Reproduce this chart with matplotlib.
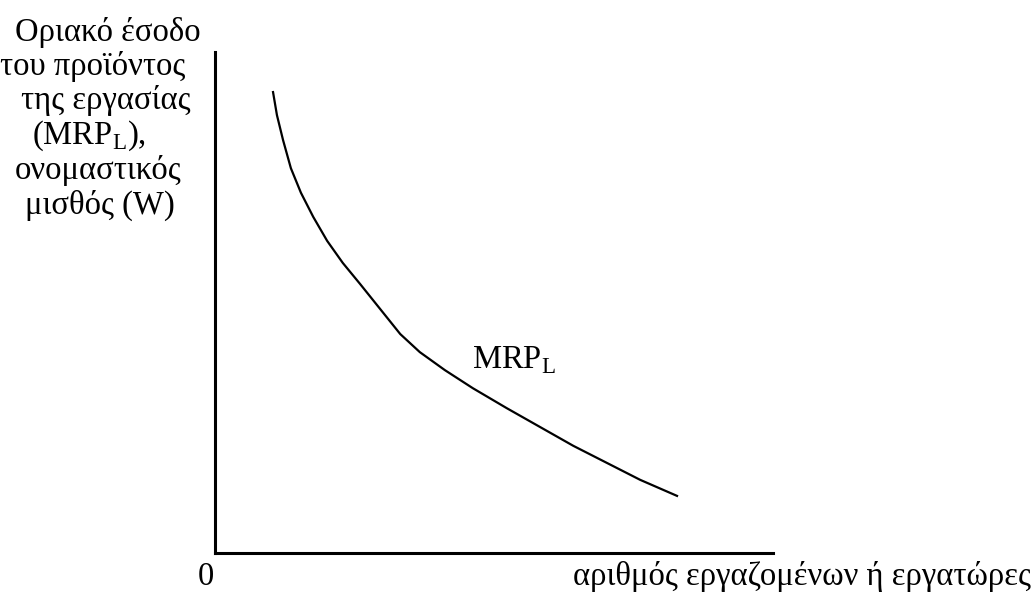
import matplotlib
matplotlib.use("Agg")
import matplotlib.pyplot as plt

plt.rcParams['font.family'] = ['Liberation Serif', 'DejaVu Serif']
plt.rcParams['mathtext.fontset'] = 'custom'
plt.rcParams['mathtext.rm'] = 'Liberation Serif'

# MRP_L curve (x: labour, y: MRP / wage, 0-100 scale)
labour = [10.4, 11.1, 12.2, 13.6, 15.4, 17.6, 20.1, 22.9, 26.0, 29.6,
          33.2, 36.7, 41.2, 46.2, 52.3, 64.2, 76.2, 82.8]
mrp = [92.0, 87.4, 82.4, 76.8, 71.9, 67.1, 62.3, 57.9, 53.7, 48.7,
       43.7, 40.1, 36.5, 32.9, 28.9, 21.4, 14.6, 11.4]

ylabel_lines = ["Οριακό έσοδο", "του προϊόντος", "της εργασίας",
                r"(MRP$_\mathrm{L}$),", "ονομαστικός", "μισθός (W)"]
xlabel = "αριθμός εργαζομένων ή εργατώρες"
curve_label = r"MRP$_\mathrm{L}$"

W, H = 1035, 596
fig = plt.figure(figsize=(W / 100, H / 100), dpi=100)
ax = fig.add_axes([215 / W, (H - 553) / H, (773 - 215) / W, (553 - 52) / H])
ax.set_xlim(0, 100)
ax.set_ylim(0, 100)
ax.plot(labour, mrp, color='black', lw=1.6, solid_joinstyle='round')

for s in ['top', 'right']:
    ax.spines[s].set_visible(False)
for s in ['left', 'bottom']:
    ax.spines[s].set_linewidth(2.2)
ax.set_xticks([])
ax.set_yticks([])

# y-axis title, one line at a time (pixel positions)
fs = 23.5
ys = [32, 67, 101, 136, 171, 205]
xs = [15, 0, 21, 32, 15, 25]
for line, x, y in zip(ylabel_lines, xs, ys):
    fig.text(x / W, 1 - y / H, line, fontsize=fs, ha='left', va='center')

fig.text(198 / W, 1 - 577 / H, "0", fontsize=fs, ha='left', va='center')
fig.text(1031 / W, 1 - 577 / H, xlabel, fontsize=fs, ha='right', va='center')
ax.text(46.1, 38.5, curve_label, fontsize=fs, ha='left', va='center')

fig.savefig("out.png", dpi=100, facecolor='white')
